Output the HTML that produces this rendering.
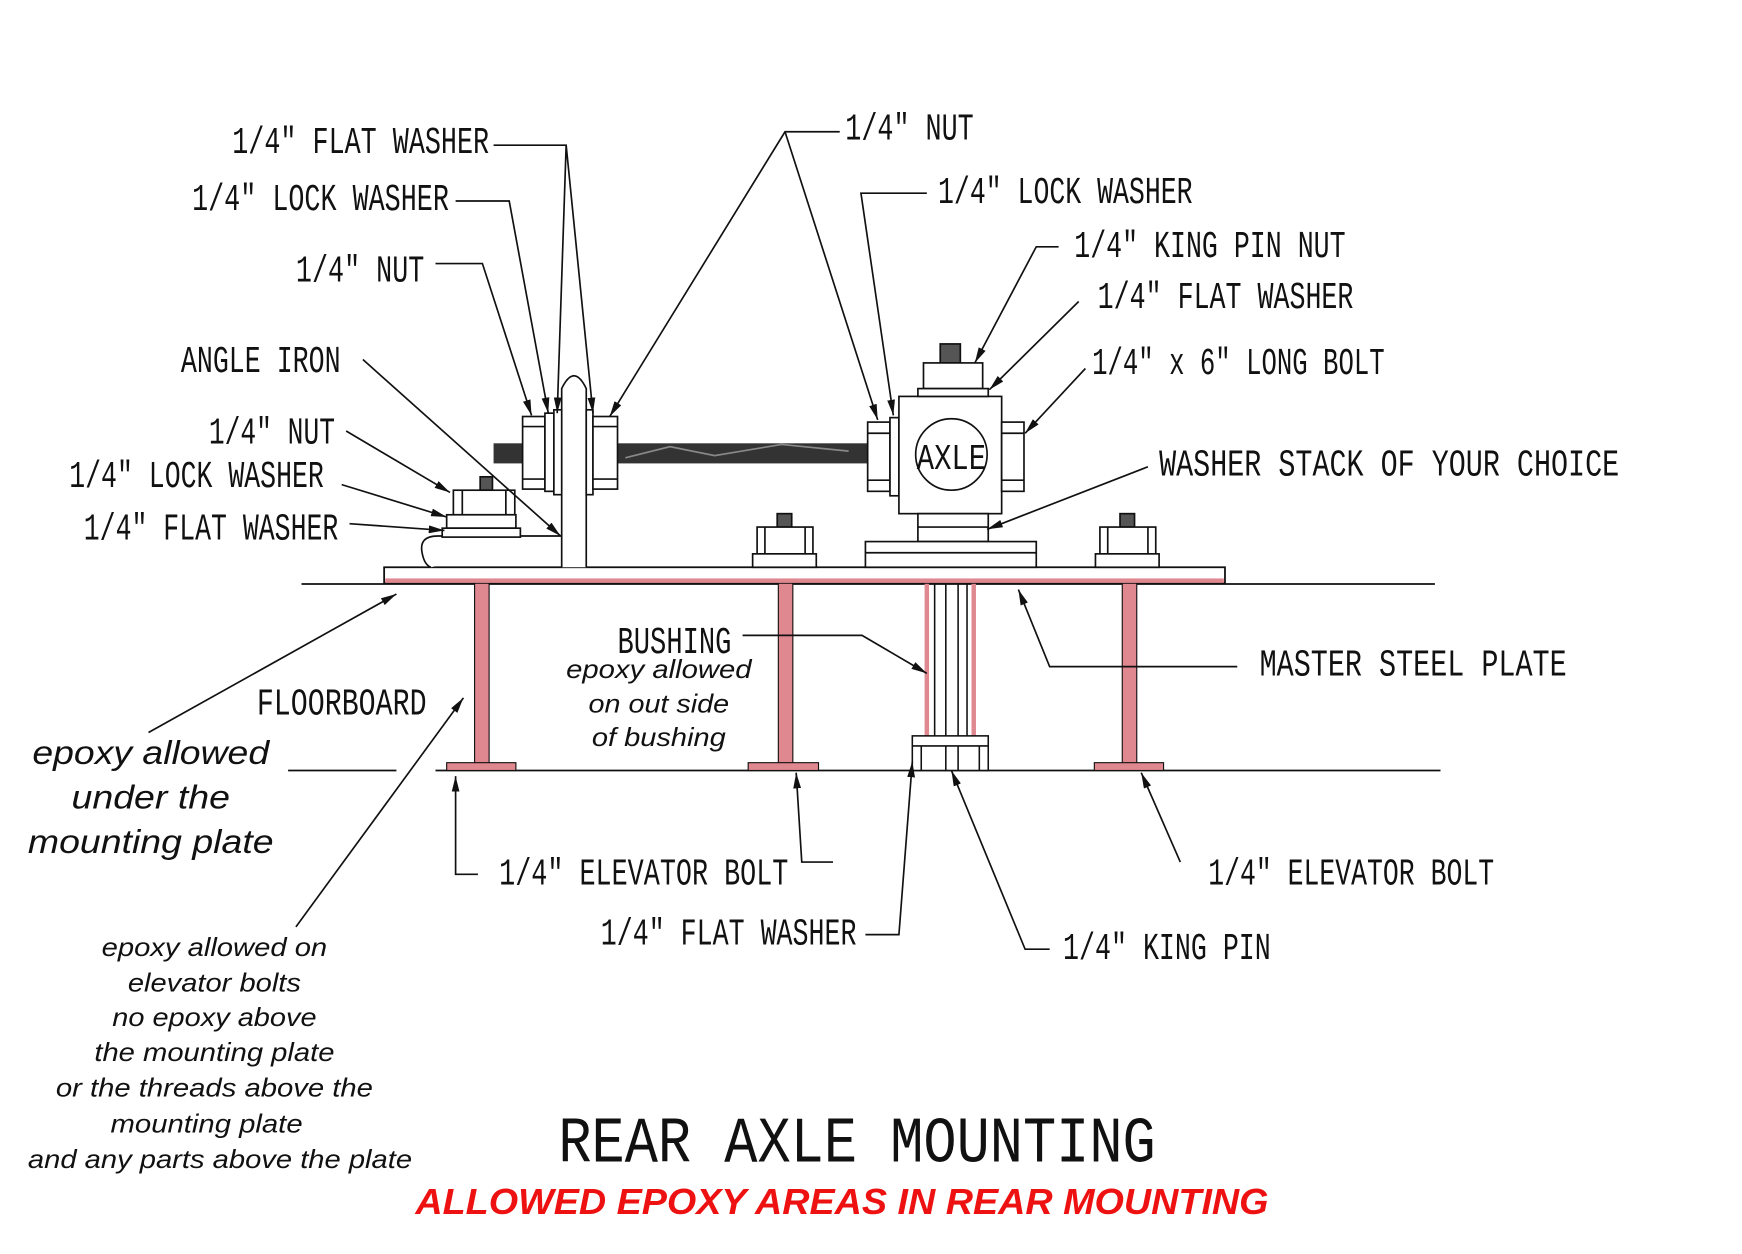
<!DOCTYPE html>
<html><head><meta charset="utf-8"><style>
html,body{margin:0;padding:0;background:#fff;}
svg{display:block;}
.l{font-family:"Liberation Mono",monospace;font-size:34px;fill:#111;}
.i{font-family:"Liberation Sans",sans-serif;font-style:italic;fill:#111;text-anchor:middle;}
</style></head><body>
<svg width="1742" height="1254" viewBox="0 0 1560 1123" preserveAspectRatio="none" xmlns="http://www.w3.org/2000/svg">
<defs>
<marker id="a" viewBox="0 0 12 6" refX="12" refY="3" markerWidth="14" markerHeight="7" markerUnits="userSpaceOnUse" orient="auto"><path d="M0,0 L12,3 L0,6 z" fill="#111"/></marker>
</defs>
<rect width="1560" height="1123" fill="#fff"/>
<g stroke="#111" stroke-width="1.6" fill="none">
<line x1="270" y1="523" x2="1285" y2="523"/>
<line x1="258" y1="690" x2="355" y2="690"/>
<line x1="390" y1="690" x2="1290" y2="690"/>
</g>
<g fill="#e08890" stroke="#111" stroke-width="1">
<rect x="425" y="522" width="13" height="162"/><rect x="400" y="683" width="62" height="7"/>
<rect x="697" y="522" width="13" height="162"/><rect x="670" y="683" width="63" height="7"/>
<rect x="1005" y="522" width="13" height="162"/><rect x="980" y="683" width="62" height="7"/>
</g>
<g stroke="#111" stroke-width="1.4" fill="#fff">
<line x1="830" y1="522" x2="830" y2="660" stroke="#e08890" stroke-width="4"/>
<line x1="872" y1="522" x2="872" y2="660" stroke="#e08890" stroke-width="4"/>
<line x1="837" y1="522" x2="837" y2="660"/><line x1="847" y1="522" x2="847" y2="660"/><line x1="858" y1="522" x2="858" y2="660"/><line x1="866" y1="522" x2="866" y2="660"/>
<rect x="817" y="659" width="68" height="31"/>
<line x1="817" y1="668" x2="885" y2="668"/>
<line x1="825" y1="668" x2="825" y2="690"/><line x1="847" y1="668" x2="847" y2="690"/><line x1="858" y1="668" x2="858" y2="690"/><line x1="877" y1="668" x2="877" y2="690"/>
</g>
<rect x="344" y="508" width="753" height="14" fill="#fff" stroke="#111" stroke-width="1.6"/>
<rect x="345" y="518" width="751" height="4" fill="#e08890"/>
<rect x="442" y="397" width="338" height="18" fill="#333"/>
<path d="M560 410 L600 400 L640 408 L700 398 L760 404" stroke="#888" stroke-width="1.5" fill="none"/>
<g stroke="#111" stroke-width="1.5" fill="#fff">
<path d="M503 508 L503 348 Q514 325 525 348 L525 508"/>
<path d="M503 480 L392 480 Q375 480 378 495 Q380 506 386 508"/>
<rect x="468" y="373" width="20" height="65"/><line x1="468" y1="382" x2="488" y2="382"/><line x1="468" y1="429" x2="488" y2="429"/>
<rect x="488" y="370" width="8" height="70"/><rect x="496" y="367" width="7" height="76"/>
<rect x="525" y="367" width="6" height="76"/>
<rect x="531" y="373" width="22" height="65"/><line x1="531" y1="382" x2="553" y2="382"/><line x1="531" y1="429" x2="553" y2="429"/>
<rect x="430" y="427" width="11" height="12" fill="#555"/>
<rect x="406" y="439" width="55" height="22"/><line x1="414" y1="439" x2="414" y2="461"/><line x1="453" y1="439" x2="453" y2="461"/>
<rect x="400" y="461" width="62" height="12"/>
<rect x="396" y="473" width="70" height="8"/>
<rect x="777" y="378" width="20" height="62"/><line x1="777" y1="388" x2="797" y2="388"/><line x1="777" y1="430" x2="797" y2="430"/>
<rect x="797" y="374" width="8" height="70"/>
<rect x="805" y="355" width="92" height="105"/>
<circle cx="852" cy="407" r="32"/>
<rect x="897" y="378" width="20" height="62"/><line x1="897" y1="388" x2="917" y2="388"/><line x1="897" y1="430" x2="917" y2="430"/>
<rect x="842" y="308" width="18" height="17" fill="#555"/>
<rect x="827" y="325" width="53" height="23"/>
<rect x="822" y="348" width="63" height="7"/>
<rect x="822" y="460" width="63" height="25"/><line x1="822" y1="472" x2="885" y2="472"/>
<rect x="775" y="485" width="153" height="23"/><line x1="775" y1="495" x2="928" y2="495"/>
<rect x="696" y="460" width="13" height="12" fill="#555"/>
<rect x="678" y="472" width="50" height="24"/><line x1="685" y1="472" x2="685" y2="496"/><line x1="721" y1="472" x2="721" y2="496"/>
<rect x="674" y="496" width="57" height="12"/>
<rect x="1003" y="460" width="13" height="12" fill="#555"/>
<rect x="985" y="472" width="50" height="24"/><line x1="992" y1="472" x2="992" y2="496"/><line x1="1028" y1="472" x2="1028" y2="496"/>
<rect x="981" y="496" width="57" height="12"/>
</g>
<text x="852" y="420" font-family="Liberation Mono,monospace" font-size="32" text-anchor="middle" textLength="62" lengthAdjust="spacingAndGlyphs" fill="#111">AXLE</text>
<g stroke="#111" stroke-width="1.5" fill="none" marker-end="url(#a)">
<polyline points="442,130 507,130 499,370"/>
<polyline points="507,130 531,370"/>
<polyline points="408,180 456,180 491,370"/>
<polyline points="390,236 432,236 476,372"/>
<line x1="325" y1="322" x2="502" y2="480"/>
<line x1="310" y1="386" x2="403" y2="441"/>
<line x1="306" y1="434" x2="400" y2="463"/>
<line x1="313" y1="469" x2="398" y2="475"/>
<polyline points="752,118 703,118 546,373"/>
<line x1="703" y1="118" x2="786" y2="376"/>
<polyline points="830,173 771,173 800,372"/>
<polyline points="948,221 928,221 873,325"/>
<line x1="966" y1="270" x2="886" y2="349"/>
<line x1="972" y1="330" x2="918" y2="388"/>
<line x1="1028" y1="418" x2="884" y2="474"/>
<polyline points="1108,597 940,597 912,528"/>
<polyline points="665,569 772,569 830,603"/>
<line x1="133" y1="656" x2="355" y2="532"/>
<line x1="265" y1="830" x2="415" y2="625"/>
<polyline points="428,783 408,783 408,695"/>
<polyline points="746,772 718,772 713,692"/>
<line x1="1057" y1="772" x2="1022" y2="692"/>
<polyline points="775,837 805,837 817,682"/>
<polyline points="940,850 918,850 852,690"/>
</g>
<g class="l">
<text x="208" y="137" textLength="230" lengthAdjust="spacingAndGlyphs">1/4" FLAT WASHER</text>
<text x="172" y="188" textLength="230" lengthAdjust="spacingAndGlyphs">1/4" LOCK WASHER</text>
<text x="265" y="252" textLength="115" lengthAdjust="spacingAndGlyphs">1/4" NUT</text>
<text x="162" y="333" textLength="143" lengthAdjust="spacingAndGlyphs">ANGLE IRON</text>
<text x="187" y="397" textLength="113" lengthAdjust="spacingAndGlyphs">1/4" NUT</text>
<text x="62" y="436" textLength="228" lengthAdjust="spacingAndGlyphs">1/4" LOCK WASHER</text>
<text x="75" y="483" textLength="228" lengthAdjust="spacingAndGlyphs">1/4" FLAT WASHER</text>
<text x="757" y="125" textLength="115" lengthAdjust="spacingAndGlyphs">1/4" NUT</text>
<text x="840" y="182" textLength="228" lengthAdjust="spacingAndGlyphs">1/4" LOCK WASHER</text>
<text x="962" y="230" textLength="243" lengthAdjust="spacingAndGlyphs">1/4" KING PIN NUT</text>
<text x="983" y="276" textLength="229" lengthAdjust="spacingAndGlyphs">1/4" FLAT WASHER</text>
<text x="978" y="335" textLength="262" lengthAdjust="spacingAndGlyphs">1/4" x 6" LONG BOLT</text>
<text x="1038" y="426" textLength="412" lengthAdjust="spacingAndGlyphs">WASHER STACK OF YOUR CHOICE</text>
<text x="1128" y="605" textLength="275" lengthAdjust="spacingAndGlyphs">MASTER STEEL PLATE</text>
<text x="553" y="585" textLength="102" lengthAdjust="spacingAndGlyphs">BUSHING</text>
<text x="230" y="640" textLength="152" lengthAdjust="spacingAndGlyphs">FLOORBOARD</text>
<text x="447" y="792" textLength="259" lengthAdjust="spacingAndGlyphs">1/4" ELEVATOR BOLT</text>
<text x="1082" y="792" textLength="256" lengthAdjust="spacingAndGlyphs">1/4" ELEVATOR BOLT</text>
<text x="538" y="846" textLength="229" lengthAdjust="spacingAndGlyphs">1/4" FLAT WASHER</text>
<text x="952" y="859" textLength="186" lengthAdjust="spacingAndGlyphs">1/4" KING PIN</text>
<text x="500" y="1040" font-size="58" textLength="535" lengthAdjust="spacingAndGlyphs">REAR AXLE MOUNTING</text>
</g>
<g class="i" font-size="30">
<text x="135" y="684" textLength="212" lengthAdjust="spacingAndGlyphs">epoxy allowed</text>
<text x="135" y="724" textLength="142" lengthAdjust="spacingAndGlyphs">under the</text>
<text x="135" y="764" textLength="220" lengthAdjust="spacingAndGlyphs">mounting plate</text>
</g>
<g class="i" font-size="23">
<text x="590" y="607" textLength="166" lengthAdjust="spacingAndGlyphs">epoxy allowed</text>
<text x="590" y="638" textLength="126" lengthAdjust="spacingAndGlyphs">on out side</text>
<text x="590" y="668" textLength="120" lengthAdjust="spacingAndGlyphs">of bushing</text>
<text x="192" y="856" textLength="202" lengthAdjust="spacingAndGlyphs">epoxy allowed on</text>
<text x="192" y="888" textLength="155" lengthAdjust="spacingAndGlyphs">elevator bolts</text>
<text x="192" y="919" textLength="183" lengthAdjust="spacingAndGlyphs">no epoxy above</text>
<text x="192" y="950" textLength="215" lengthAdjust="spacingAndGlyphs">the mounting plate</text>
<text x="192" y="982" textLength="284" lengthAdjust="spacingAndGlyphs">or the threads above the</text>
<text x="185" y="1014" textLength="172" lengthAdjust="spacingAndGlyphs">mounting plate</text>
<text x="197" y="1046" textLength="344" lengthAdjust="spacingAndGlyphs">and any parts above the plate</text>
</g>
<text x="754" y="1087" font-family="Liberation Sans,sans-serif" font-style="italic" font-weight="bold" font-size="32" fill="#ee1111" text-anchor="middle" textLength="764" lengthAdjust="spacingAndGlyphs">ALLOWED EPOXY AREAS IN REAR MOUNTING</text>
</svg>
</body></html>
